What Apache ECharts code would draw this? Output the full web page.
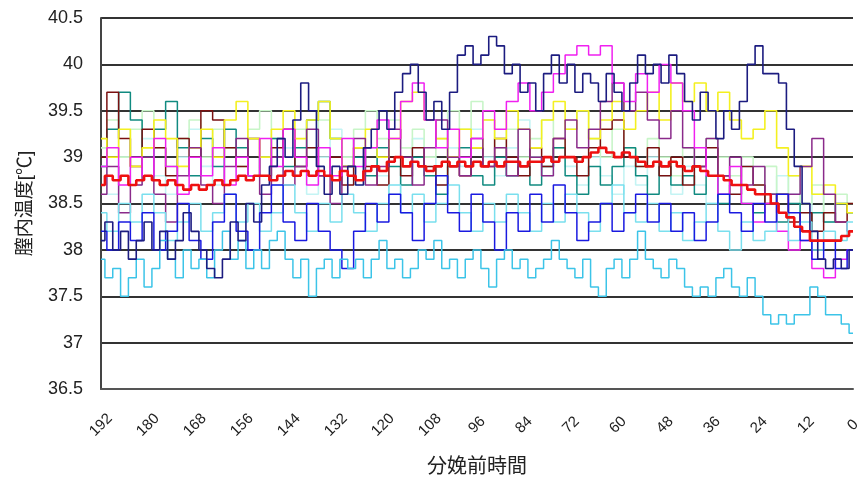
<!DOCTYPE html>
<html>
<head>
<meta charset="utf-8">
<script src="https://cdn.jsdelivr.net/npm/echarts@6/dist/echarts.min.js"></script>
<style>
html,body{margin:0;padding:0;background:#fff;}
#chart{width:865px;height:482px;}
</style>
</head>
<body>
<div id="chart"></div>
<script>
// Hours before calving (x axis), ticks every 12 h
const xTickLabels = [192,180,168,156,144,132,120,108,96,84,72,60,48,36,24,12,0];
const yTickLabels = [36.5,37,37.5,38,38.5,39,39.5,40,40.5];
const HOURS_SPAN = 192;

// ---- 2-hour resolution series (192 h -> 0 h) ----
const navy = [
38.1,38.3,38.0,38.2,37.9,38.1,38.3,38.0,38.2,37.9,
38.1,38.4,38.2,38.0,37.8,37.7,37.9,38.3,38.1,38.5,
38.3,38.7,38.9,39.2,39.0,39.4,39.8,39.5,38.9,38.6,
38.9,38.6,38.9,38.7,39.1,39.3,39.5,39.3,39.7,39.9,
40.0,39.7,39.4,39.6,39.3,39.7,40.1,40.2,40.0,40.1,
40.3,40.2,39.9,40.0,39.7,39.8,39.5,39.9,40.1,39.8,
40.0,39.7,39.9,39.8,39.6,39.9,39.7,39.5,39.8,40.1,
39.9,40.0,39.8,40.1,39.9,39.6,39.4,39.7,39.5,39.2,
39.5,39.3,39.6,40.0,40.2,39.9,39.9,39.8,39.3,38.9,
38.5,38.2,37.9,37.8,37.9,37.8,38.0];

const skyBlue = [
37.9,37.7,37.8,37.5,37.7,37.9,37.6,37.8,38.1,37.9,
37.7,38.0,37.8,37.9,37.7,38.0,38.2,37.9,38.1,37.8,
38.0,37.8,38.1,38.2,37.9,37.7,37.9,37.5,37.8,37.9,
37.7,37.9,37.8,37.9,37.7,37.9,38.1,37.8,37.9,37.7,
37.8,38.0,37.9,38.1,37.8,37.9,37.7,37.9,38.0,37.8,
37.6,37.9,38.0,37.8,37.9,37.7,37.8,37.9,38.1,37.9,
37.8,37.7,37.9,37.6,37.5,37.8,37.9,37.7,37.9,38.2,
37.9,37.8,37.7,37.9,37.8,37.6,37.5,37.6,37.5,37.7,
37.8,37.6,37.5,37.7,37.5,37.3,37.2,37.3,37.2,37.3,
37.3,37.6,37.5,37.3,37.3,37.2,37.1];

const average = [
38.7,38.8,38.75,38.8,38.7,38.75,38.8,38.75,38.7,38.75,
38.7,38.65,38.7,38.65,38.7,38.75,38.7,38.75,38.8,38.75,
38.8,38.8,38.75,38.8,38.85,38.8,38.85,38.8,38.85,38.8,
38.75,38.85,38.8,38.75,38.85,38.9,38.85,38.95,39.0,38.9,
38.95,38.9,38.85,38.9,38.95,38.9,38.95,38.9,38.95,38.9,
38.95,38.9,38.95,38.95,38.9,38.95,38.95,39.0,38.95,39.0,
39.0,38.95,39.0,39.05,39.1,39.05,39.0,39.05,39.0,38.95,
38.9,38.95,38.9,38.95,38.9,38.85,38.9,38.85,38.8,38.8,
38.75,38.7,38.7,38.65,38.6,38.6,38.5,38.4,38.35,38.25,
38.2,38.1,38.1,38.1,38.1,38.15,38.2];

// ---- 3-hour resolution series (192 h -> 0 h) ----
const blue = [
38.2,38.0,38.3,38.1,38.4,38.0,38.2,38.5,38.1,37.9,
38.3,38.6,38.2,38.0,38.4,38.7,38.3,38.1,38.5,38.2,
38.0,37.8,38.2,38.5,38.3,38.6,38.4,38.1,38.5,38.8,
38.4,38.2,38.6,38.3,38.0,38.4,38.2,38.6,38.3,38.7,
38.4,38.1,38.3,38.5,38.2,38.4,38.6,38.3,38.5,38.2,
38.4,38.1,38.3,38.6,38.4,38.2,38.5,38.3,38.6,38.4,
38.1,37.9,38.1,37.8,38.0];

const magenta = [
38.9,39.1,38.7,39.0,38.8,39.2,38.9,38.6,39.0,38.8,
39.1,38.7,39.0,38.8,39.2,38.9,39.3,39.0,38.7,39.1,
38.8,39.2,38.9,39.1,39.4,39.2,39.6,39.8,39.4,39.1,
39.3,39.0,39.2,39.5,39.3,39.6,39.8,39.5,39.7,39.9,
40.1,40.2,40.1,40.2,39.8,39.6,39.9,39.7,40.0,39.8,
39.5,39.1,38.8,38.6,38.9,38.5,38.3,38.5,38.2,38.0,
38.1,37.8,37.7,37.9,38.0];

const yellow = [
39.2,39.0,39.3,38.9,39.1,39.4,39.2,38.9,39.1,39.3,
39.0,39.4,39.6,39.2,39.0,39.3,39.5,39.2,39.4,39.6,
39.2,38.9,39.1,39.3,39.0,39.2,39.6,39.7,39.4,39.2,
39.0,39.3,39.1,39.4,39.2,39.5,39.3,39.1,39.4,39.6,
39.3,39.5,39.2,39.4,39.6,39.3,39.5,39.7,39.4,39.8,
39.6,39.8,39.5,39.7,39.4,39.2,39.3,39.5,39.1,38.8,
38.9,38.6,38.7,38.5,38.4];

const purple = [
38.6,38.9,38.4,38.7,39.0,38.6,38.3,38.8,39.1,38.7,
38.5,38.9,39.2,38.8,38.6,39.0,38.7,38.9,39.3,38.8,
38.5,38.9,39.2,38.7,38.9,39.3,39.0,38.7,39.1,39.4,
39.0,38.8,39.2,38.9,39.1,38.8,39.3,39.0,38.8,39.2,
39.4,39.1,39.3,39.6,39.8,39.5,39.7,39.4,39.2,39.5,
39.1,38.9,39.2,38.8,39.0,38.7,38.9,38.6,38.4,38.6,
38.9,39.2,38.6,38.3,38.2];

const maroon = [
39.0,39.7,39.2,38.9,39.3,39.1,38.8,39.2,39.0,39.5,
39.4,39.1,38.9,39.2,38.8,39.1,39.3,38.9,39.1,38.8,
39.0,38.7,39.1,38.9,38.7,39.0,38.8,39.1,38.9,38.7,
39.0,38.8,39.1,38.9,39.2,39.0,38.8,39.1,38.9,39.2,
39.0,38.8,39.1,39.3,39.4,39.0,38.9,39.1,38.8,39.0,
38.7,38.9,39.1,38.8,38.6,38.9,38.7,38.5,38.6,38.3,
38.4,38.2,38.4,38.3,38.5];

const teal = [
38.9,39.3,39.7,39.4,39.0,39.3,39.6,39.1,38.8,39.2,
38.9,39.3,39.1,38.8,39.0,39.2,38.9,39.1,39.4,39.6,
39.2,38.9,39.0,38.8,39.1,38.9,38.7,39.0,38.8,38.6,
38.9,39.1,38.8,38.7,39.0,38.8,38.9,38.7,38.9,39.1,
38.8,38.6,38.9,38.7,38.9,39.1,38.8,38.6,38.9,38.7,
38.8,38.6,38.8,38.5,38.7,38.5,38.4,38.6,38.3,38.5,
38.2,38.4,38.3,38.5,38.4];

const cyanMid = [
38.4,38.2,38.5,38.3,38.6,38.4,38.1,38.3,38.5,38.2,
38.4,38.6,38.3,38.5,38.2,38.4,38.7,38.4,38.2,38.5,
38.3,38.6,38.4,38.2,38.5,38.7,38.4,38.6,38.3,38.5,
38.7,38.4,38.2,38.5,38.3,38.6,38.4,38.2,38.5,38.3,
38.6,38.4,38.2,38.5,38.7,38.4,38.3,38.5,38.2,38.4,
38.1,38.3,38.5,38.2,38.0,38.3,38.1,38.2,38.4,38.1,
38.3,38.0,38.2,38.1,38.3];

const lightTurquoise = [
38.9,38.6,39.0,38.7,39.2,38.8,38.6,39.0,39.3,38.9,
38.7,39.1,38.8,39.2,39.0,38.7,39.1,38.9,38.6,39.0,
39.3,39.0,38.7,39.1,38.8,38.6,38.9,39.2,39.0,38.7,
39.1,38.9,39.3,39.0,38.8,39.1,39.4,39.0,38.8,39.1,
38.9,38.7,39.0,38.8,38.6,38.9,38.7,39.0,38.8,38.6,
38.9,38.7,38.5,38.8,38.6,38.9,38.7,38.5,38.8,38.6,
38.4,38.6,38.3,38.5,38.4];

const lightGreen = [
39.1,39.4,39.0,39.3,39.5,39.1,38.9,39.2,39.4,39.0,
39.3,39.1,38.9,39.3,39.5,39.2,39.0,39.3,39.1,39.4,
39.2,39.0,39.3,39.5,39.2,39.4,39.1,39.3,39.0,39.2,
39.5,39.3,39.6,39.4,39.1,39.3,39.0,39.2,39.4,39.1,
39.3,39.5,39.2,39.0,39.3,39.1,38.9,39.2,39.0,38.8,
39.1,38.9,39.2,39.0,38.8,39.0,38.7,38.9,38.6,38.8,
38.5,38.7,38.4,38.6,38.5];

function toPairs(vals) {
  const step = HOURS_SPAN / (vals.length - 1);
  return vals.map((v, i) => [HOURS_SPAN - i * step, v]);
}

const seriesDefs = [
  { name: 'lightTurquoise', data: lightTurquoise, color: '#c4f4f4', width: 1.6 },
  { name: 'lightGreen', data: lightGreen, color: '#c8f5c8', width: 1.6 },
  { name: 'teal', data: teal, color: '#108a80', width: 1.5 },
  { name: 'maroon', data: maroon, color: '#7a1010', width: 1.5 },
  { name: 'yellow', data: yellow, color: '#f4f020', width: 1.6 },
  { name: 'purple', data: purple, color: '#8a2a8a', width: 1.5 },
  { name: 'magenta', data: magenta, color: '#f020f0', width: 1.5 },
  { name: 'cyanMid', data: cyanMid, color: '#7adfee', width: 1.5 },
  { name: 'blue', data: blue, color: '#1a1ae0', width: 1.5 },
  { name: 'skyBlue', data: skyBlue, color: '#3cc4e8', width: 1.5 },
  { name: 'navy', data: navy, color: '#1c1c80', width: 1.6 },
  { name: 'average', data: average, color: '#ee1010', width: 2.6 }
];

const FONT = "'Liberation Sans', 'Noto Sans CJK JP', sans-serif";

const chart = echarts.init(document.getElementById('chart'), null, { renderer: 'canvas' });
chart.setOption({
  animation: false,
  backgroundColor: '#ffffff',
  grid: { left: 101, right: 12, top: 18, bottom: 93 },
  xAxis: {
    type: 'value',
    inverse: true,
    min: 0,
    max: HOURS_SPAN,
    interval: 12,
    name: '分娩前時間',
    nameLocation: 'middle',
    nameGap: 68,
    nameTextStyle: { fontSize: 20, color: '#222', fontFamily: FONT },
    axisLine: { show: true, onZero: false, lineStyle: { color: '#555', width: 2 } },
    axisTick: { show: false },
    splitLine: { show: false },
    axisLabel: {
      rotate: 45,
      align: 'center',
      verticalAlign: 'middle',
      margin: 36,
      fontSize: 15,
      color: '#222',
      fontFamily: FONT,
      formatter: v => (xTickLabels.indexOf(v) >= 0 ? String(v) : '')
    }
  },
  yAxis: {
    type: 'value',
    min: yTickLabels[0],
    max: yTickLabels[yTickLabels.length - 1],
    interval: 0.5,
    name: '膣内温度[℃]',
    nameLocation: 'middle',
    nameRotate: 90,
    nameGap: 66,
    nameTextStyle: { fontSize: 19, color: '#222', fontFamily: FONT },
    axisLine: { show: true, onZero: false, lineStyle: { color: '#444', width: 2 } },
    axisTick: { show: false },
    splitLine: { show: true, lineStyle: { color: '#333', width: 2 } },
    axisLabel: { fontSize: 18, color: '#222', margin: 18, fontFamily: FONT }
  },
  series: seriesDefs.map(s => ({
    name: s.name,
    type: 'line',
    step: 'middle',
    showSymbol: false,
    symbol: 'none',
    data: toPairs(s.data),
    lineStyle: { color: s.color, width: s.width },
    itemStyle: { color: s.color },
    emphasis: { disabled: true }
  }))
});
</script>
</body>
</html>
